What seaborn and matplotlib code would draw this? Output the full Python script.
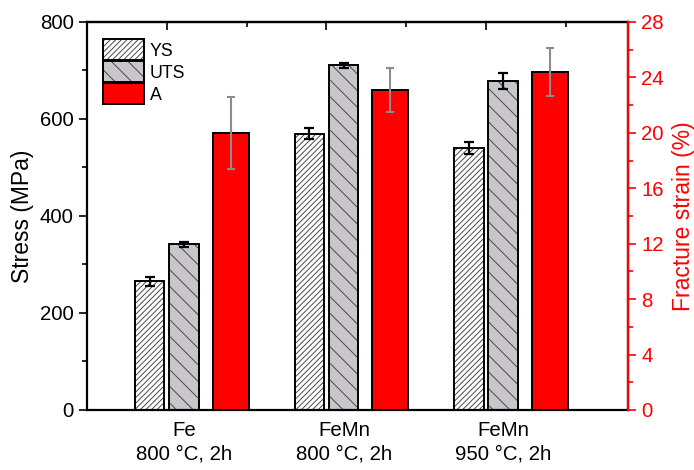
import matplotlib
matplotlib.use("Agg")
import matplotlib.pyplot as plt
from matplotlib.patches import Patch, Rectangle
from matplotlib.legend_handler import HandlerTuple
from matplotlib.ticker import MultipleLocator
import numpy as np
import pandas as pd
import seaborn as sns

# ---- data ----
groups = ["Fe\n800 °C, 2h", "FeMn\n800 °C, 2h", "FeMn\n950 °C, 2h"]
ys = [265, 570, 540]
ys_err = [10, 12, 12]
uts = [342, 711, 678]
uts_err = [5, 5, 17]
strain = [20.0, 23.1, 24.4]
strain_err = [2.6, 1.6, 1.75]

sns.set_style("ticks")
plt.rcParams["font.family"] = ["Liberation Sans", "DejaVu Sans"]
plt.rcParams["hatch.linewidth"] = 0.7
for key in ["text.color", "axes.labelcolor", "xtick.color", "ytick.color"]:
    plt.rcParams[key] = "black"

RED = "#FF0000"
UTS_GRAY = "#C8C5CB"
HATCH_COLOR = "#4a4a4a"
YS_HATCH = "//////"
UTS_HATCH = "\\\\"

fig = plt.figure(figsize=(6.94, 4.70), dpi=100)
ax = fig.add_axes([0.1254, 0.1277, 0.7796, 0.8255])

df = pd.DataFrame({
    "group": groups * 2,
    "metric": ["YS"] * 3 + ["UTS"] * 3,
    "stress": ys + uts,
})
sns.barplot(data=df, x="group", y="stress", hue="metric", hue_order=["YS", "UTS"],
            palette={"YS": "white", "UTS": UTS_GRAY}, width=0.43, gap=0.14,
            dodge=True, edgecolor=HATCH_COLOR, linewidth=0, errorbar=None,
            legend=False, ax=ax)

bars = list(ax.patches)
for p in bars[:3]:
    p.set_hatch(YS_HATCH)
for p in bars[3:6]:
    p.set_hatch(UTS_HATCH)
# black outlines over the gray hatching
for p in bars[:6]:
    ax.add_patch(Rectangle(p.get_xy(), p.get_width(), p.get_height(), fill=False,
                           edgecolor="black", linewidth=1.4, zorder=p.get_zorder() + 0.1))

centers = [p.get_x() + p.get_width() / 2 for p in bars[:6]]
ax.errorbar(centers[:3], ys, yerr=ys_err, fmt="none", ecolor="black",
            elinewidth=1.6, capsize=3.5, capthick=1.6, zorder=5)
ax.errorbar(centers[3:6], uts, yerr=uts_err, fmt="none", ecolor="black",
            elinewidth=1.6, capsize=3.5, capthick=1.6, zorder=5)

# fracture strain on the right axis
ax2 = ax.twinx()
x = np.arange(len(groups))
ax2.bar(x + 0.40, strain, width=0.226, color=RED, edgecolor="black", linewidth=1.4,
        yerr=strain_err,
        error_kw=dict(ecolor="#8C8C8C", elinewidth=1.5, capsize=3.0, capthick=1.5))

ax.set_xlim(-0.5, 2.89)
ax.set_ylim(0, 800)
ax2.set_ylim(0, 28)

ax.set_xticks(x + 0.11)
ax.set_xticklabels(groups, fontsize=14.7, linespacing=1.3)
ax.tick_params(axis="x", length=0, pad=8)
ax.set_xlabel("")

ax.yaxis.set_major_locator(MultipleLocator(200))
ax.yaxis.set_minor_locator(MultipleLocator(100))
ax.tick_params(axis="y", which="major", length=6, width=1.2, labelsize=14.7, direction="out")
ax.tick_params(axis="y", which="minor", length=3.5, width=1.2, direction="out")
ax.set_ylabel("Stress (MPa)", fontsize=16.5, labelpad=4)

ax2.yaxis.set_major_locator(MultipleLocator(4))
ax2.yaxis.set_minor_locator(MultipleLocator(2))
ax2.tick_params(axis="y", which="major", length=6, width=1.2, labelsize=14.7,
                colors=RED, direction="out")
ax2.tick_params(axis="y", which="minor", length=3.5, width=1.2, colors=RED, direction="out")
ax2.set_ylabel("Fracture strain (%)", fontsize=16.5, color=RED, labelpad=6)

# top ticks pointing inward
top = ax.secondary_xaxis("top")
top.set_xticks(x)
top.set_xticks(x + 0.5, minor=True)
top.set_xticklabels([])
top.tick_params(which="major", direction="in", length=6, width=1.2)
top.tick_params(which="minor", direction="in", length=3.5, width=1.2)
top.spines["top"].set_linewidth(1.6)

for s in ["left", "bottom", "top", "right"]:
    ax.spines[s].set_visible(True)
    ax.spines[s].set_linewidth(1.6)
    ax.spines[s].set_color("black")
ax2.spines["right"].set_color(RED)
ax2.spines["right"].set_linewidth(1.6)
ax2.spines["left"].set_visible(False)
ax2.spines["top"].set_visible(False)
ax2.spines["bottom"].set_visible(False)

def outline():
    return Patch(facecolor="none", edgecolor="black", linewidth=1.4)

handles = [
    (Patch(facecolor="white", edgecolor=HATCH_COLOR, hatch=YS_HATCH, linewidth=0), outline()),
    (Patch(facecolor=UTS_GRAY, edgecolor=HATCH_COLOR, hatch=UTS_HATCH, linewidth=0), outline()),
    Patch(facecolor=RED, edgecolor="black", linewidth=1.4),
]
ax2.legend(handles=handles, labels=["YS", "UTS", "A"], loc="upper left",
           bbox_to_anchor=(0.029, 0.956), handler_map={tuple: HandlerTuple(ndivide=1, pad=0)},
           frameon=False, fontsize=12.8, borderpad=0, borderaxespad=0,
           handlelength=2.35, handleheight=1.45, labelspacing=0.05,
           handletextpad=0.3)

fig.savefig("out.png", dpi=100)
